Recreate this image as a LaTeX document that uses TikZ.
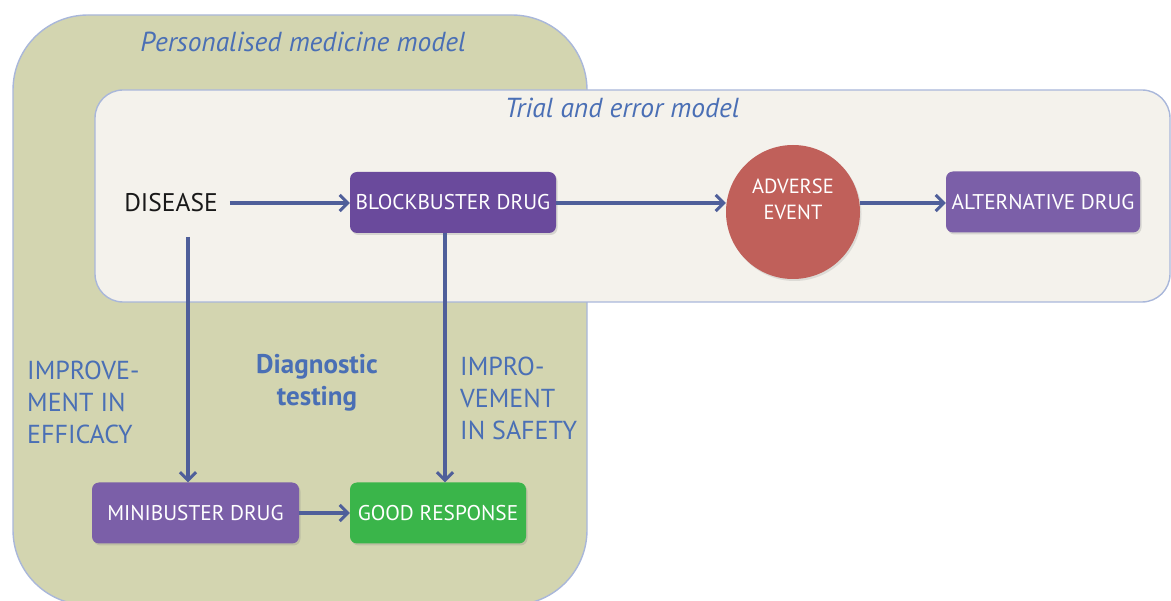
\documentclass[tikz,border=0pt]{standalone}
\usepackage{fontspec}
\setmainfont{PT Sans}
\usetikzlibrary{arrows.meta,shadows}
\definecolor{outerfill}{HTML}{D3D5B0}
\definecolor{outerline}{HTML}{A9B7DA}
\definecolor{innerfill}{HTML}{F4F2EC}
\definecolor{innerline}{HTML}{A9B7DA}
\definecolor{titleblue}{HTML}{4A6FB5}
\definecolor{arrowblue}{HTML}{4F5F9A}
\definecolor{darkpurple}{HTML}{6A4A9C}
\definecolor{lightpurple}{HTML}{7B5FA8}
\definecolor{eventred}{HTML}{C0605A}
\definecolor{goodgreen}{HTML}{3AB54A}
\tikzset{
  x=1pt, y=-1pt,
  region/.style={draw=#1, line width=1.4pt},
  title/.style={text=titleblue, font=\fontsize{27.5}{30}\selectfont\itshape},
  drugbox/.style={fill=#1, rounded corners=7pt, minimum height=61pt, inner sep=0pt,
    text=white, font=\fontsize{21.3}{24}\selectfont,
    drop shadow={shadow xshift=1.5pt, shadow yshift=-2pt, opacity=0.25}},
  flow/.style={draw=arrowblue, line width=3.4pt, -{Straight Barb[length=8pt,width=16pt,line width=3pt]}},
  sidelabel/.style={text=titleblue, align=left, anchor=north west, inner sep=0pt,
    font=\fontsize{26}{32}\selectfont},
}
\begin{document}
\begin{tikzpicture}
\useasboundingbox (0,0) rectangle (1171,601);
\begin{scope}
\clip (0,0) rectangle (1171,601);
% outer region: personalised medicine
\draw[region=outerline, fill=outerfill, rounded corners=75pt] (13,15) rectangle (587,605);
% inner region: trial and error
\draw[region=innerline, fill=innerfill, rounded corners=28pt] (95,90) rectangle (1170,302);
\end{scope}

\node[title] (pm) at (303,42) {Personalised medicine model};
\node[title] (te) at (622,108) {Trial and error model};

\node[font=\fontsize{25.5}{28}\selectfont, text=black!90, inner sep=0pt] (dis) at (171,203) {DISEASE};
\node[drugbox=darkpurple, minimum width=206pt] (bb) at (453,202.5) {BLOCKBUSTER DRUG};
\node[circle, fill=eventred, minimum size=134pt, inner sep=0pt,
      drop shadow={shadow xshift=1.5pt, shadow yshift=-2pt, opacity=0.2}] (ae) at (793,212) {};
\node[text=white, align=center, inner sep=0pt, font=\fontsize{20.5}{26}\selectfont] (aetext) at (793,199) {ADVERSE\\EVENT};
\node[drugbox=lightpurple, minimum width=194pt] (alt) at (1043,202) {ALTERNATIVE DRUG};
\node[drugbox=lightpurple, minimum width=207pt] (mini) at (195.5,513) {MINIBUSTER DRUG};
\node[drugbox=goodgreen, minimum width=176pt] (good) at (438,513) {GOOD RESPONSE};

\coordinate (disdown) at (188,237);
\coordinate (bbdown) at (445,233);

\draw[flow] (dis.east) ++(12,0) coordinate (dise) -- (bb.west |- dise);
\draw[flow] (bb.east |- dise) -- (ae.west |- dise);
\draw[flow] (ae.east |- dise) -- (alt.west |- dise);
\draw[flow] (disdown) -- (disdown |- mini.north);
\draw[flow] (bbdown) -- (bbdown |- good.north);
\draw[flow] (mini.east) -- (good.west);

\node[sidelabel] (eff) at (27,361) {IMPROVE-\\MENT IN\\EFFICACY};
\node[sidelabel] (saf) at (460,357) {IMPRO-\\VEMENT\\IN SAFETY};
\node[text=titleblue, align=center, inner sep=0pt, font=\fontsize{27}{32}\selectfont\bfseries] (diag) at (317,383) {Diagnostic\\testing};
\end{tikzpicture}
\end{document}
